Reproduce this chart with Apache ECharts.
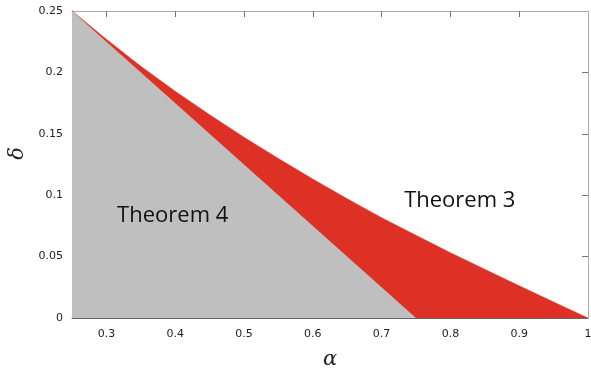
<!DOCTYPE html>
<html>
<head>
<meta charset="utf-8">
<script src="https://cdn.jsdelivr.net/npm/echarts@6/dist/echarts.min.js"></script>
<style>
  html, body { margin: 0; padding: 0; background: #fff; }
  #chart { width: 591px; height: 373px; }
</style>
</head>
<body>
<div id="chart"></div>
<script>
// values
const alphaCurve = [0.25, 0.3, 0.35, 0.4, 0.45, 0.5, 0.55, 0.6, 0.65, 0.7, 0.75, 0.8, 0.85, 0.9, 0.95, 1.0];
const deltaTheorem3 = [0.25, 0.227, 0.205, 0.1846, 0.1656, 0.1472, 0.1299, 0.1131, 0.0971, 0.0817, 0.0673, 0.0532, 0.0396, 0.0262, 0.0131, 0];
const alphaTheorem4 = [0.25, 0.25, 0.75];
const deltaTheorem4 = [0, 0.25, 0];
const xTickValues = [0.3, 0.4, 0.5, 0.6, 0.7, 0.8, 0.9, 1];
const xTopTicks = [0.3, 0.4, 0.5, 0.6, 0.7, 0.8, 0.9];
const yRightTicks = [0.05, 0.1, 0.15, 0.2];
const regionLabels = [
  { text: 'Theorem 4', alpha: 0.3964, delta: 0.0832 },
  { text: 'Theorem 3', alpha: 0.8136, delta: 0.0954 }
];

const pairs = (xs, ys) => xs.map((x, i) => [x, ys[i]]);

const chart = echarts.init(document.getElementById('chart'));
chart.setOption({
  animation: false,
  backgroundColor: '#fff',
  grid: { left: 72, right: 3, top: 11, bottom: 55, outerBoundsMode: 'none', containLabel: false },
  textStyle: { fontFamily: 'DejaVu Sans' },
  xAxis: [
    {
      type: 'value', min: 0.25, max: 1,
      name: 'α', nameLocation: 'middle', nameGap: 31,
      nameTextStyle: { fontFamily: 'DejaVu Serif', fontStyle: 'italic', fontSize: 21, color: '#222' },
      axisLine: { show: true, onZero: false, lineStyle: { color: '#666', width: 1 } },
      axisTick: { show: false },
      splitLine: { show: false },
      axisLabel: { customValues: xTickValues, color: '#222', fontSize: 11, margin: 11,
        formatter: v => String(+v.toFixed(2)) }
    },
    {
      type: 'value', min: 0.25, max: 1, position: 'top',
      axisLine: { show: true, onZero: false, lineStyle: { color: '#aaa' } },
      axisTick: { show: true, inside: true, length: 6, customValues: xTopTicks, lineStyle: { color: '#777' } },
      axisLabel: { show: false },
      splitLine: { show: false }
    }
  ],
  yAxis: [
    {
      type: 'value', min: 0, max: 0.25, interval: 0.05,
      name: 'δ', nameLocation: 'middle', nameGap: 43, nameRotate: 90,
      nameTextStyle: { fontFamily: 'DejaVu Serif', fontStyle: 'italic', fontSize: 21, color: '#222', padding: [0, 0, 0, 22] },
      axisLine: { show: true, onZero: false, lineStyle: { color: '#666', width: 1 } },
      axisTick: { show: false },
      splitLine: { show: false },
      axisLabel: { color: '#222', fontSize: 11, margin: 9, formatter: v => String(+v.toFixed(2)) }
    },
    {
      type: 'value', min: 0, max: 0.25, position: 'right',
      axisLine: { show: true, onZero: false, lineStyle: { color: '#aaa' } },
      axisTick: { show: true, inside: true, length: 6, customValues: yRightTicks, lineStyle: { color: '#777' } },
      axisLabel: { show: false },
      splitLine: { show: false }
    }
  ],
  series: [
    {
      name: 'Theorem 3', type: 'line', data: pairs(alphaCurve, deltaTheorem3),
      showSymbol: false, smooth: false,
      lineStyle: { width: 0.5, color: '#de3125' },
      areaStyle: { color: '#de3125', opacity: 1 },
      z: 1
    },
    {
      name: 'Theorem 4', type: 'line', data: pairs(alphaTheorem4, deltaTheorem4),
      showSymbol: false,
      lineStyle: { width: 0 },
      areaStyle: { color: '#bebfbe', opacity: 1 },
      z: 2,
      markPoint: {
        symbol: 'circle', symbolSize: 0,
        label: { show: true, formatter: p => p.name, fontFamily: 'Open Sans', fontSize: 22, color: '#111' },
        data: regionLabels.map(r => ({ name: r.text, coord: [r.alpha, r.delta] }))
      }
    }
  ]
});
</script>
</body>
</html>
